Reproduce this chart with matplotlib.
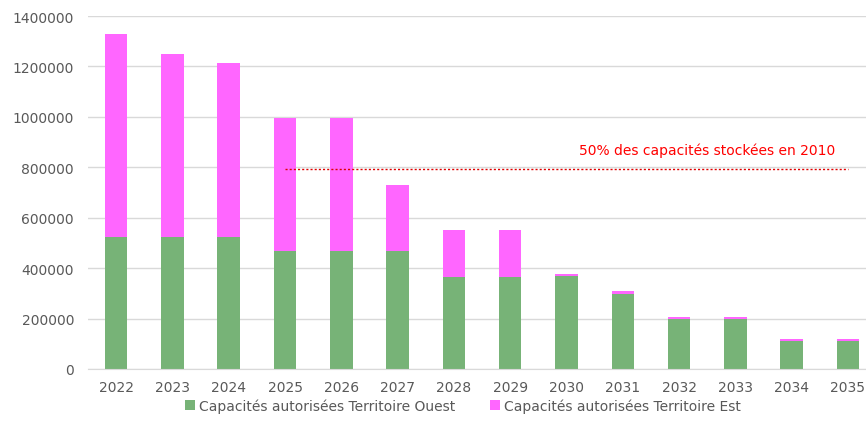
import matplotlib.pyplot as plt
import numpy as np

# Capacités autorisées par année (t)
years = ["2022", "2023", "2024", "2025", "2026", "2027", "2028",
         "2029", "2030", "2031", "2032", "2033", "2034", "2035"]
ouest = [525000, 525000, 525000, 470000, 470000, 470000, 365000,
         365000, 368000, 298000, 197000, 197000, 110000, 110000]
total = [1329000, 1250000, 1215000, 995000, 995000, 730000, 550000,
         550000, 376000, 310000, 207000, 207000, 119000, 119000]
est = [t - o for t, o in zip(total, ouest)]

seuil = 795000
seuil_label = "50% des capacités stockées en 2010"

GREEN = "#77B377"
PINK = "#FF66FF"
GREY = "#595959"

fig = plt.figure(figsize=(8.66, 4.27), dpi=100)
ax = fig.add_axes([0.1016, 0.1335, 0.8984, 0.8265])

x = np.arange(len(years))
ax.bar(x, ouest, width=0.4, color=GREEN, label="Capacités autorisées Territoire Ouest", zorder=2)
ax.bar(x, est, width=0.4, bottom=ouest, color=PINK, label="Capacités autorisées Territoire Est", zorder=2)

# ligne de seuil de 2025 à 2035
ax.plot([3, 13], [seuil, seuil], color="#E00000", linestyle=(0, (1.5, 1.5)), linewidth=1, zorder=3)
ax.text(10.5, 870000, seuil_label, color="#FF0000", fontsize=10, ha="center", va="center")

ax.set_xlim(-0.5, 13.32)
ax.set_ylim(0, 1400000)
yt = np.arange(0, 1400001, 200000)
ax.set_yticks(yt)
ax.set_yticklabels([str(v) for v in yt])
ax.set_xticks(x)
ax.set_xticklabels(years)
ax.tick_params(axis="both", length=0, labelsize=10, colors=GREY)
ax.tick_params(axis="x", pad=8)
ax.tick_params(axis="y", pad=10)
ax.grid(axis="y", color="#D9D9D9", linewidth=1, zorder=0)
for s in ["top", "right", "left"]:
    ax.spines[s].set_visible(False)
ax.spines["bottom"].set_color("#D9D9D9")

fig.legend(loc="center", bbox_to_anchor=(0.535, 0.048), ncol=2, frameon=False,
           fontsize=10, labelcolor=GREY, handlelength=0.7, handleheight=0.7,
           handletextpad=0.3, columnspacing=2.5)

fig.savefig("out.png", dpi=100)
